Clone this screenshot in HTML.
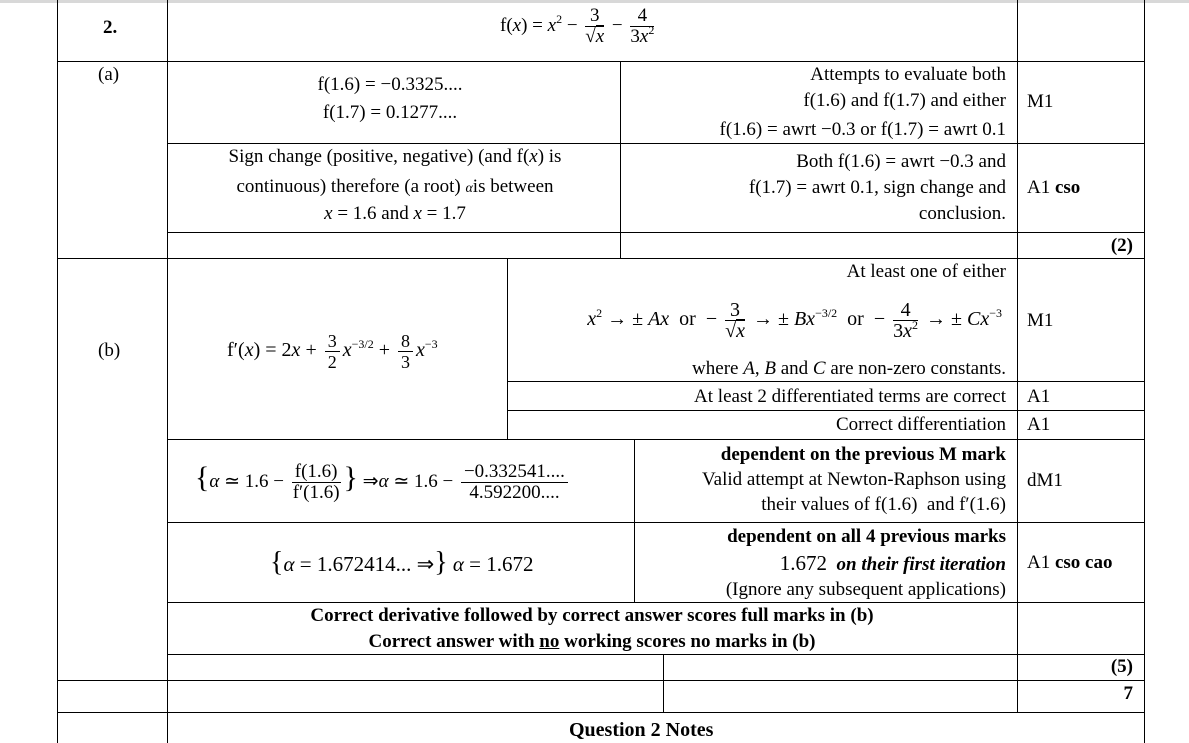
<!DOCTYPE html>
<html><head><meta charset="utf-8">
<style>
body{margin:0;width:1189px;height:743px;background:#fff;position:relative;overflow:hidden;font-family:"Liberation Serif",serif;font-size:19px;color:#000}
.h{position:absolute;height:0;border-top:1.5px solid #000}
.v{position:absolute;width:0;border-left:1.5px solid #000}
.t{position:absolute;white-space:nowrap;line-height:22px}
.r{text-align:right}
.c{text-align:center}
.b{font-weight:bold}
i{font-style:italic}
.fr{display:inline-flex;flex-direction:column;vertical-align:middle;text-align:center;line-height:20px;margin:0 3px}
.fr>span:first-child{border-bottom:1.2px solid #000;padding:0 3px}
sup{font-size:12px;vertical-align:8px;line-height:0}
.sq{border-top:1.2px solid #000}
</style></head><body>
<div style="position:absolute;left:0;top:0;width:1189px;height:3px;background:#d8d8d8"></div>
<div class="v" style="left:57px;top:0;height:743px"></div>
<div class="v" style="left:167px;top:0;height:743px"></div>
<div class="v" style="left:1017px;top:0;height:712px"></div>
<div class="v" style="left:1144px;top:0;height:743px"></div>
<div class="v" style="left:620px;top:61px;height:197px"></div>
<div class="v" style="left:507px;top:258px;height:181px"></div>
<div class="v" style="left:634px;top:439px;height:163px"></div>
<div class="v" style="left:663px;top:654px;height:58px"></div>
<div class="h" style="left:57px;top:61px;width:1088px"></div>
<div class="h" style="left:167px;top:143px;width:978px"></div>
<div class="h" style="left:167px;top:232px;width:978px"></div>
<div class="h" style="left:57px;top:258px;width:1088px"></div>
<div class="h" style="left:507px;top:381px;width:638px"></div>
<div class="h" style="left:507px;top:410px;width:638px"></div>
<div class="h" style="left:167px;top:439px;width:978px"></div>
<div class="h" style="left:167px;top:522px;width:978px"></div>
<div class="h" style="left:167px;top:602px;width:978px"></div>
<div class="h" style="left:167px;top:654px;width:978px"></div>
<div class="h" style="left:57px;top:680px;width:1088px"></div>
<div class="h" style="left:57px;top:712px;width:1088px"></div>

<div class="t b" style="left:103px;top:17px">2.</div>
<div class="t" style="left:500px;top:4px;line-height:44px">f(<i>x</i>) = <i>x</i><sup>2</sup> − <span class="fr"><span>3</span><span>√<span class="sq"><i>x</i></span></span></span> − <span class="fr"><span>4</span><span>3<i>x</i><sup>2</sup></span></span></div>

<div class="t" style="left:98px;top:64px">(a)</div>
<div class="t c" style="left:165px;width:450px;top:74px">f(1.6) = −0.3325....</div>
<div class="t c" style="left:165px;width:450px;top:102px">f(1.7) = 0.1277....</div>
<div class="t r" style="left:620px;width:386px;top:64px">Attempts to evaluate both</div>
<div class="t r" style="left:620px;width:386px;top:90px">f(1.6) and f(1.7) and either</div>
<div class="t r" style="left:620px;width:386px;top:119px">f(1.6) = awrt −0.3 or f(1.7) = awrt 0.1</div>
<div class="t" style="left:1027px;top:91px">M1</div>
<div class="t c" style="left:170px;width:450px;top:146px">Sign change (positive, negative) (and f(<i>x</i>) is</div>
<div class="t c" style="left:170px;width:450px;top:176px">continuous) therefore (a root) <i style="font-size:14px">α</i>is between</div>
<div class="t c" style="left:170px;width:450px;top:203px"><i>x</i> = 1.6 and <i>x</i> = 1.7</div>
<div class="t r" style="left:620px;width:386px;top:151px">Both f(1.6) = awrt −0.3 and</div>
<div class="t r" style="left:620px;width:386px;top:177px">f(1.7) = awrt 0.1, sign change and</div>
<div class="t r" style="left:620px;width:386px;top:203px">conclusion.</div>
<div class="t" style="left:1027px;top:177px">A1 <b>cso</b></div>
<div class="t b r" style="left:1017px;width:116px;top:235px">(2)</div>

<div class="t" style="left:98px;top:340px">(b)</div>
<div class="t" style="left:227px;top:326px;line-height:48px;font-size:20px">f′(<i>x</i>) = 2<i>x</i> + <span class="fr" style="font-size:18px"><span>3</span><span>2</span></span><i>x</i><sup>−3/2</sup> + <span class="fr" style="font-size:18px"><span>8</span><span>3</span></span><i>x</i><sup>−3</sup></div>
<div class="t r" style="left:507px;width:499px;top:261px">At least one of either</div>
<div class="t r" style="left:510px;width:492px;top:290px;line-height:58px;font-size:20px"><i>x</i><sup>2</sup> → ± <i>Ax</i> &nbsp;or &nbsp;− <span class="fr"><span>3</span><span>√<span class="sq"><i>x</i></span></span></span> → ± <i>Bx</i><sup>−3/2</sup> &nbsp;or &nbsp;− <span class="fr"><span>4</span><span>3<i>x</i><sup>2</sup></span></span> → ± <i>Cx</i><sup>−3</sup></div>
<div class="t r" style="left:507px;width:499px;top:358px">where <i>A</i>, <i>B</i> and <i>C</i> are non-zero constants.</div>
<div class="t" style="left:1027px;top:310px">M1</div>
<div class="t r" style="left:507px;width:499px;top:386px">At least 2 differentiated terms are correct</div>
<div class="t" style="left:1027px;top:386px">A1</div>
<div class="t r" style="left:507px;width:499px;top:414px">Correct differentiation</div>
<div class="t" style="left:1027px;top:414px">A1</div>

<div class="t" style="left:195px;top:448px;line-height:60px;font-size:19px"><span style="font-size:30px;font-weight:100">{</span><i>α</i> ≃ 1.6 − <span class="fr"><span>f(1.6)</span><span>f′(1.6)</span></span><span style="font-size:30px;font-weight:100">}</span> ⇒<i>α</i> ≃ 1.6 − <span class="fr"><span>−0.332541....</span><span>4.592200....</span></span></div>
<div class="t b r" style="left:634px;width:372px;top:444px">dependent on the previous M mark</div>
<div class="t r" style="left:634px;width:372px;top:469px">Valid attempt at Newton-Raphson using</div>
<div class="t r" style="left:634px;width:372px;top:494px">their values of f(1.6) &nbsp;and f′(1.6)</div>
<div class="t" style="left:1027px;top:470px">dM1</div>
<div class="t" style="left:270px;top:545px;line-height:36px;font-size:21px"><span style="font-size:28px;font-weight:100">{</span><i>α</i> = 1.672414... ⇒<span style="font-size:28px;font-weight:100">}</span> <i>α</i> = 1.672</div>
<div class="t b r" style="left:634px;width:372px;top:526px">dependent on all 4 previous marks</div>
<div class="t r" style="left:634px;width:372px;top:552px"><span style="font-size:21px">1.672</span> &nbsp;<b><i>on their first iteration</i></b></div>
<div class="t r" style="left:634px;width:372px;top:579px">(Ignore any subsequent applications)</div>
<div class="t" style="left:1027px;top:552px">A1 <b>cso cao</b></div>
<div class="t b c" style="left:167px;width:850px;top:605px">Correct derivative followed by correct answer scores full marks in (b)</div>
<div class="t b c" style="left:167px;width:850px;top:631px">Correct answer with <u>no</u> working scores no marks in (b)</div>
<div class="t b r" style="left:1017px;width:116px;top:656px">(5)</div>
<div class="t b r" style="left:1017px;width:116px;top:683px">7</div>
<div class="t b" style="left:569px;top:719px;font-size:20px">Question 2 Notes</div>
</body></html>
